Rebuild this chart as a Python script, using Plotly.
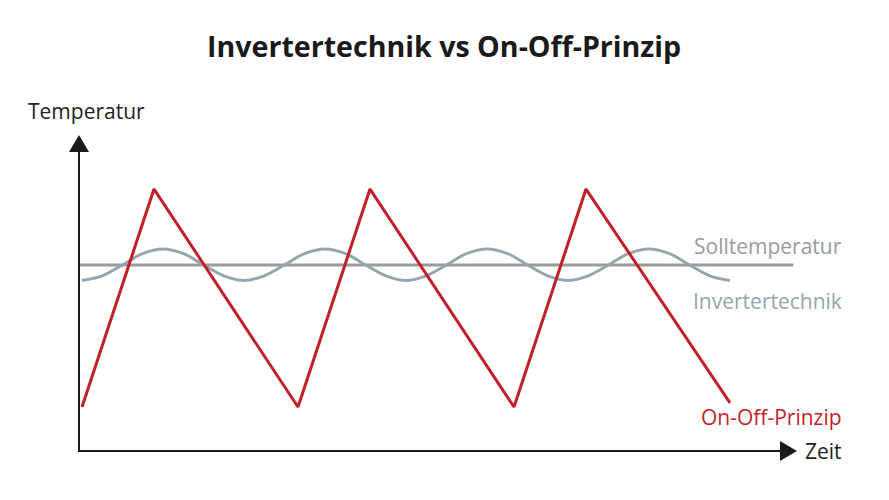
import plotly.graph_objects as go

# ---- data (abstract time / temperature units) ----
onoff_t = [0, 1, 3, 4, 6, 7, 9]
onoff_temp = [15.42, 22.45, 15.42, 22.45, 15.42, 22.45, 15.55]

inverter_t = [0, 0.28, 0.5625, 0.84, 1.125, 1.41, 1.6875, 1.97, 2.25,
              2.53, 2.8125, 3.09, 3.375, 3.66, 3.9375, 4.22, 4.5,
              4.78, 5.0625, 5.34, 5.625, 5.91, 6.1875, 6.47, 6.75,
              7.03, 7.3125, 7.59, 7.875, 8.16, 8.4375, 8.72, 9.0]
inverter_temp = [19.5, 19.65, 20.0, 20.37, 20.52, 20.37, 20.0, 19.65, 19.5,
                 19.65, 20.0, 20.37, 20.52, 20.37, 20.0, 19.65, 19.5,
                 19.65, 20.0, 20.37, 20.52, 20.37, 20.0, 19.65, 19.5,
                 19.65, 20.0, 20.37, 20.52, 20.37, 20.0, 19.65, 19.5]

soll_t = [-0.04, 9.88]
soll_temp = [20.0, 20.0]

title_text = "Invertertechnik vs On-Off-Prinzip"
y_label = "Temperatur"
x_label = "Zeit"
label_soll = "Solltemperatur"
label_inv = "Invertertechnik"
label_onoff = "On-Off-Prinzip"

RED = "#c31f2b"
GRAY = "#9b9b9b"
BLUEGRAY = "#95a6ae"
BLACK = "#1a1a1a"

OFF = 8  # default page body margin
W, H = 889 - 2 * OFF, 500 - 2 * OFF
# plot area in window pixels
L, R, T, B = 79, 797, 135, 451
PW, PH = R - L, B - T


def px(x):
    return (x - L) / PW


def py(y):
    return (B - y) / PH


fig = go.Figure()
fig.add_trace(go.Scatter(x=soll_t, y=soll_temp, mode="lines",
                         line=dict(color=GRAY, width=3), hoverinfo="skip"))
fig.add_trace(go.Scatter(x=inverter_t, y=inverter_temp, mode="lines",
                         line=dict(color=BLUEGRAY, width=3, shape="spline", smoothing=1.0),
                         hoverinfo="skip"))
fig.add_trace(go.Scatter(x=onoff_t, y=onoff_temp, mode="lines",
                         line=dict(color=RED, width=3), hoverinfo="skip"))

shapes = [
    dict(type="line", xref="paper", yref="paper", x0=0, x1=0, y0=py(452), y1=py(150),
         line=dict(color=BLACK, width=2)),
    dict(type="line", xref="paper", yref="paper", x0=px(78), x1=px(782), y0=py(451), y1=py(451),
         line=dict(color=BLACK, width=2)),
    dict(type="path", xref="paper", yref="paper",
         path=f"M {px(69)} {py(152)} L {px(79)} {py(135)} L {px(89)} {py(152)} Z",
         fillcolor=BLACK, line=dict(width=0)),
    dict(type="path", xref="paper", yref="paper",
         path=f"M {px(780)} {py(441)} L {px(797)} {py(451)} L {px(780)} {py(461)} Z",
         fillcolor=BLACK, line=dict(width=0)),
]

font = "Open Sans"
annotations = [
    dict(text=y_label, x=px(26), y=py(111), xanchor="left", yanchor="middle",
         font=dict(family=font, size=21, color="#222222")),
    dict(text=x_label, x=px(844), y=py(451), xanchor="right", yanchor="middle",
         font=dict(family=font, size=21, color="#222222")),
    dict(text=label_soll, x=px(844), y=py(246), xanchor="right", yanchor="middle",
         font=dict(family=font, size=21, color=GRAY)),
    dict(text=label_inv, x=px(844), y=py(301), xanchor="right", yanchor="middle",
         font=dict(family=font, size=21, color=BLUEGRAY)),
    dict(text=label_onoff, x=px(844), y=py(417), xanchor="right", yanchor="middle",
         font=dict(family=font, size=21, color=RED)),
    dict(text=f"<b>{title_text}</b>", x=px(444), y=py(45), xanchor="center", yanchor="middle",
         font=dict(family=font, size=28.6, color="#1a1a1a")),
]
for a in annotations:
    a.update(xref="paper", yref="paper", showarrow=False)

fig.update_layout(
    width=W, height=H,
    margin=dict(l=L - OFF, r=(W + OFF) - R, t=T - OFF, b=(H + OFF) - B, pad=0),
    paper_bgcolor="white", plot_bgcolor="white",
    showlegend=False,
    xaxis=dict(range=[(L - 82) / 72, (R - 82) / 72], visible=False, fixedrange=True),
    yaxis=dict(range=[20 - (B - 265) / 31, 20 + (265 - T) / 31], visible=False, fixedrange=True),
    shapes=shapes,
    annotations=annotations,
)

fig.write_html("out.html", config=dict(displayModeBar=False))
